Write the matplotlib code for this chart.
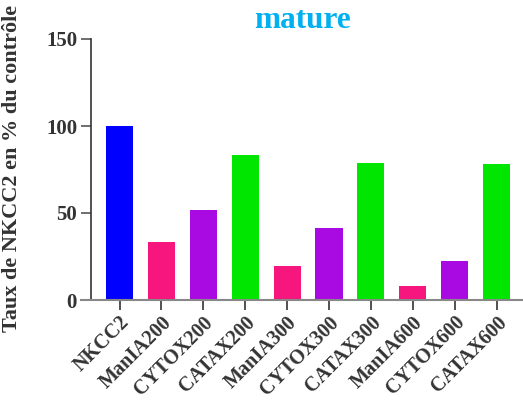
import matplotlib
matplotlib.use("Agg")
import matplotlib.pyplot as plt

categories = ["NKCC2", "ManIA200", "CYTOX200", "CATAX200", "ManIA300", "CYTOX300",
              "CATAX300", "ManIA600", "CYTOX600", "CATAX600"]
values = [100, 33.5, 51.8, 83.3, 19.6, 41.4, 78.9, 8.2, 22.4, 78.4]
colors = ["#0000ff", "#f7157e", "#a90ae2", "#00e600", "#f7157e", "#a90ae2",
          "#00e600", "#f7157e", "#a90ae2", "#00e600"]

plt.rcParams['font.family'] = ['Liberation Serif', 'DejaVu Serif']
plt.rcParams['font.weight'] = 'bold'

fig = plt.figure(figsize=(5.23, 4.01), dpi=100)
W, H = 523, 401
ax = fig.add_axes([81 / W, 1 - 300 / H, (523 - 81) / W, (300 - 39) / H])

x = list(range(len(categories)))
ax.bar(x, values, width=0.645, color=colors, edgecolor='none')

ax.set_xlim(-0.919, 9.63)
ax.set_ylim(0, 150)
ax.set_yticks([0, 50, 100, 150])
ax.set_xticks(x)
ax.set_xticklabels(categories, rotation=45, ha='right', rotation_mode='anchor',
                   fontsize=14.5, fontweight='bold', color='#333333')

ax.spines['top'].set_visible(False)
ax.spines['right'].set_visible(False)
ax.spines['left'].set_position(('axes', 10 / 442))
ax.spines['left'].set_color('#333333')
ax.spines['bottom'].set_color('#888888')
ax.spines['left'].set_linewidth(1.2)
ax.spines['bottom'].set_linewidth(1.5)
ax.tick_params(axis='y', length=7, width=1.2, color='#555555', pad=3,
               labelsize=15, labelcolor='#333333')
ax.tick_params(axis='x', length=7, width=1.2, color='#333333', pad=2,
               labelcolor='#333333')
for lbl in ax.get_yticklabels():
    lbl.set_fontweight('bold')

ax.set_ylabel("Taux de NKCC2 en % du contrôle", fontsize=16, fontweight='bold',
              color='#333333')
ax.yaxis.set_label_coords(-(81 - 22) / 442, 1 - (168 - 39) / 261)

fig.text(302 / W, 1 - 28 / H, "mature", ha='center', va='baseline', fontsize=22.5,
         fontweight='bold', color='#00b0f0')

fig.savefig("out.png", dpi=100)
